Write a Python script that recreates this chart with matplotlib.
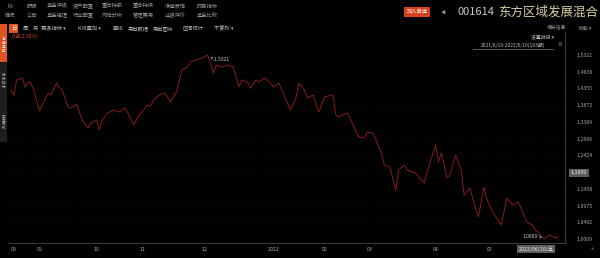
import numpy as np
import pandas as pd
import matplotlib
matplotlib.use('Agg')
import matplotlib.pyplot as plt
import matplotlib.patches as mpatches

plt.rcParams['font.family'] = ['Noto Sans CJK SC', 'DejaVu Sans']

# trading calendar, 2021/8/19 - 2022/6/10 (193 periods)
start_date = '2021-08-19'
end_date = '2022-06-10'
holidays = ['2021-09-20', '2021-09-21', '2021-10-01', '2021-10-04', '2021-10-05',
            '2021-10-06', '2021-10-07', '2022-01-03', '2022-01-31', '2022-02-01',
            '2022-02-02', '2022-02-03', '2022-02-04', '2022-04-04', '2022-04-05',
            '2022-05-02', '2022-05-03', '2022-05-04', '2022-06-03']

# unit NAV (period index in trading days)
period = [0, 1, 2, 4, 5, 6, 7, 8, 10, 13, 14, 16, 17, 18, 20, 21, 23, 24, 25, 27,
          28, 30, 31, 32, 34, 36, 38, 40, 41, 43, 45, 48, 49, 50, 52, 54, 56, 58, 60, 62,
          63, 65, 67, 69, 70, 71, 72, 74, 76, 78, 80, 81, 83, 84, 86, 87, 89, 91, 92, 94,
          95, 98, 100, 101, 103, 104, 106, 108, 110, 113, 114, 115, 118, 120, 122, 124, 125, 127, 130, 131,
          133, 135, 136, 138, 139, 142, 144, 145, 146, 149, 150, 151, 153, 154, 156, 158, 159, 161, 163, 164,
          166, 167, 169, 172, 174, 176, 178, 181, 183, 184, 185, 187, 188, 189, 191, 192]
nav = [1.4311, 1.4166, 1.4599, 1.4657, 1.4397, 1.4542, 1.4513, 1.4311, 1.3704, 1.4224,
       1.4166, 1.4513, 1.4368, 1.4311, 1.3820, 1.3791, 1.3906, 1.3675, 1.3444, 1.3214,
       1.3358, 1.3444, 1.3156, 1.3444, 1.3647, 1.3733, 1.3675, 1.3791, 1.3647, 1.3300,
       1.3589, 1.3878, 1.3849, 1.4022, 1.4166, 1.4224, 1.3964, 1.4253, 1.4888, 1.4975,
       1.5119, 1.5177, 1.5234, 1.5321, 1.5090, 1.4801, 1.5032, 1.4975, 1.5032, 1.4975,
       1.4397, 1.4599, 1.4542, 1.4368, 1.4599, 1.4542, 1.4657, 1.4513, 1.4397, 1.4513,
       1.4311, 1.3733, 1.4080, 1.4513, 1.4311, 1.4080, 1.4166, 1.3675, 1.4108, 1.4166,
       1.3589, 1.3531, 1.3647, 1.3300, 1.2954, 1.2925, 1.3098, 1.3069, 1.2492, 1.2145,
       1.2088, 1.1423, 1.2001, 1.2145, 1.2001, 1.1914, 1.1712, 1.1626, 1.1943, 1.2723,
       1.2232, 1.2492, 1.1770, 1.1857, 1.2434, 1.2001, 1.1279, 1.1481, 1.0904, 1.0644,
       1.1510, 1.1135, 1.0788, 1.0413, 1.1193, 1.0991, 1.1077, 1.0500, 1.0413, 1.0269,
       1.0211, 1.0009, 1.0067, 1.0124, 1.0038, 1.0067]

ytick_vals = [1.5321, 1.4838, 1.4355, 1.3872, 1.3389, 1.2906, 1.2424, 1.1941,
              1.1458, 1.0975, 1.0492, 1.0009]
ytick_labels = ['1.5321', '1.4838', '1.4355', '1.3872', '1.3389', '1.2906', '1.2424', '',
                '1.1458', '1.0975', '1.0492', '1.0009']
cursor_value = '1.1850'
cursor_date = '2022/06/10/五'

toolbar_row1 = ['F9', '研报', '基金评级', '资产配置', '重仓持股', '重仓持债', '净值表现', '财务指标']
toolbar_row2 = ['简况', '公告', '基金经理', '行业配置', '风险分析', '管理费用', '业绩评价', '基金比较']
toolbar_row3 = ['周', '月', '更多指标 ▾', 'K线叠加 ▾', '画线', '导出数据', '导出图片', '区间统计', '不复权 ▾']

W, H = 600, 258


def px(x, y):
    return x / W, 1 - y / H


days = pd.bdate_range(start_date, end_date, freq='C', holidays=holidays)
month_first = pd.Series(np.arange(len(days)), index=days).groupby([days.year, days.month]).first()
tick_pos = []
tick_lab = []
for (yr, mo), i in month_first.items():
    if i > 180:  # the June label sits under the cursor date box
        continue
    tick_pos.append(i)
    tick_lab.append(str(yr) if mo == 1 else '%02d' % mo)

fig = plt.figure(figsize=(6, 2.58), dpi=100, facecolor='black')

# plot area in pixels: x 8..565, y 32..243
ax = fig.add_axes([8 / W, 15 / H, 557 / W, 211 / H], facecolor='black')
ax.plot(period, nav, color='#861b1b', lw=0.7)
ax.set_xlim(-1.05, 194.4)
ax.set_ylim(0.98935, 1.5985)

for s in ['top', 'left']:
    ax.spines[s].set_visible(False)
ax.spines['right'].set_color('#3a3a3a')
ax.spines['bottom'].set_color('#3a3a3a')
ax.spines['right'].set_linewidth(0.8)
ax.spines['bottom'].set_linewidth(0.8)

ax.yaxis.tick_right()
ax.set_yticks(ytick_vals, ytick_labels)
ax.tick_params(axis='y', length=0, pad=8.5, labelsize=3.8, labelcolor='#a8a8a8')
ax.grid(axis='y', color='#141414', lw=0.5, ls=':')

ax.set_xticks(tick_pos, tick_lab)
ax.tick_params(axis='x', length=0, pad=3, labelsize=3.8, labelcolor='#a8a8a8')
for lbl in ax.get_xticklabels():
    lbl.set_ha('left')

# max / min markers
imax = int(np.argmax(nav))
imin = int(np.argmin(nav))
ax.text(period[imax] + 0.4, nav[imax] - 0.012, '↖%.4f' % nav[imax], fontsize=3.6,
        color='#d0d0d0', ha='left', va='center')
ax.text(period[imin] - 0.5, nav[imin] + 0.007, '%.4f↘' % nav[imin], fontsize=3.6,
        color='#d0d0d0', ha='right', va='center')

# cursor boxes
fig.text(*px(579, 173), cursor_value, fontsize=3.8, color='#f0f0f0', ha='center', va='center',
         bbox=dict(boxstyle='square,pad=0.35', fc='#5e5e5e', ec='none'))
fig.text(*px(536, 249), cursor_date, fontsize=3.8, color='#e8e8e8', ha='center', va='center',
         bbox=dict(boxstyle='square,pad=0.35', fc='#5e5e5e', ec='none'))
fig.text(*px(592, 249), '+', fontsize=4, color='#a8a8a8', ha='center', va='center')

# toolbar
row_x = [10, 32, 57, 83, 112, 143, 175, 207]
for x, t in zip(row_x, toolbar_row1):
    fig.text(*px(x, 6), t, fontsize=3.8, color='#9a9a9a', ha='center', va='center')
for x, t in zip(row_x, toolbar_row2):
    fig.text(*px(x, 15.5), t, fontsize=3.8, color='#9a9a9a', ha='center', va='center')
fig.text(*px(13.5, 28.5), '日', fontsize=3.8, color='white', ha='center', va='center',
         bbox=dict(boxstyle='square,pad=0.3', fc='#e2531f', ec='none'))
row3_x = [25, 35, 53, 89, 118, 138, 163, 193, 224]
for x, t in zip(row3_x, toolbar_row3):
    fig.text(*px(x, 28.5), t, fontsize=3.8, color='#bdbdbd', ha='center', va='center')
fig.text(*px(12, 36.5), '(1日,2.90%)', fontsize=3.6, color='#c8461e', ha='left', va='center')

# left side strip
fig.patches.append(mpatches.Rectangle(px(0, 62), 7 / W, 38 / H, transform=fig.transFigure,
                                      fc='#e2531f', ec='none'))
fig.patches.append(mpatches.Rectangle(px(0, 142), 7 / W, 80 / H, transform=fig.transFigure,
                                      fc='#1e1e1e', ec='none'))
fig.text(*px(3.5, 45), '净\n值\n走\n势', fontsize=2.6, color='white', ha='center', va='center',
         linespacing=1.0)
fig.text(*px(3.5, 81), '分\n析\n指\n标', fontsize=2.6, color='#c0c0c0', ha='center', va='center',
         linespacing=1.0)
fig.text(*px(3.5, 122), '买\n卖\n资\n料', fontsize=2.6, color='#c0c0c0', ha='center', va='center',
         linespacing=1.0)

# title block, top right
fig.text(*px(417, 12), '加入自选', fontsize=3.8, color='white', ha='center', va='center',
         bbox=dict(boxstyle='square,pad=0.4', fc='#d8401c', ec='none'))
fig.text(*px(443, 12), '◀', fontsize=3.5, color='#9a9a9a', ha='center', va='center')
fig.text(*px(457, 12), '001614', fontsize=8, color='#c8c8c8', ha='left', va='center')
fig.text(*px(498, 12), '东方区域发展混合', fontsize=9, color='#d6cfa0', ha='left', va='center')
fig.text(*px(557, 28), '相关信息', fontsize=3.5, color='#9a9a9a', ha='center', va='center')
fig.text(*px(585, 28), '功能 ▾', fontsize=3.5, color='#9a9a9a', ha='center', va='center')
fig.text(*px(543, 37), '设置时段 ▾', fontsize=3.5, color='#bdbdbd', ha='center', va='center')
fig.text(*px(513, 45), '2021/8/19-2022/6/10(193期)', fontsize=3.5, color='#bdbdbd',
         ha='center', va='center')
fig.add_artist(plt.Line2D([473 / W, 553 / W], [1 - 48.5 / H, 1 - 48.5 / H], color='#9a9a9a', lw=0.4))
fig.text(*px(560, 45), '⚙', fontsize=3.5, color='#9a9a9a', ha='center', va='center')

fig.savefig('out.png', dpi=100, facecolor='black')
